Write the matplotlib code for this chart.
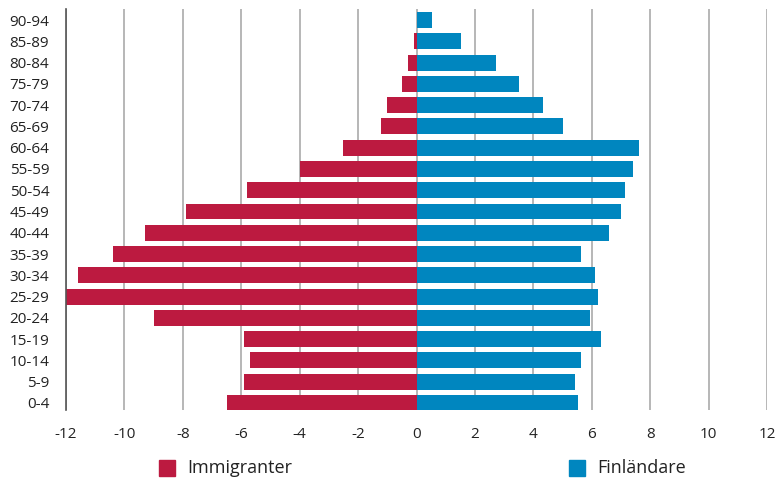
import numpy as np
import matplotlib.pyplot as plt
from matplotlib.patches import Rectangle

age_groups = ["0-4", "5-9", "10-14", "15-19", "20-24", "25-29", "30-34", "35-39",
    "40-44", "45-49", "50-54", "55-59", "60-64", "65-69", "70-74", "75-79",
    "80-84", "85-89", "90-94"]
immigrants = [-6.5, -5.9, -5.7, -5.9, -9.0, -12.0, -11.6, -10.4, -9.3, -7.9,
    -5.8, -4.0, -2.5, -1.2, -1.0, -0.5, -0.3, -0.1, 0.0]
finns = [5.53, 5.43, 5.63, 6.3, 5.94, 6.2, 6.1, 5.63, 6.6, 7.0,
    7.14, 7.41, 7.62, 5.0, 4.33, 3.5, 2.72, 1.52, 0.53]
x_ticks = list(range(-12, 13, 2))

red = "#BC1A40"
blue = "#0086BF"

plt.rcParams["font.family"] = ["Open Sans", "DejaVu Sans"]

fig = plt.figure(figsize=(7.75, 4.78), dpi=100)
ax = fig.add_axes([66 / 775, 1 - 410 / 478, (767 - 66) / 775, (410 - 9) / 478])

y = np.arange(len(age_groups))
ax.barh(y, immigrants, height=0.75, color=red, zorder=3)
ax.barh(y, finns, height=0.75, color=blue, zorder=3)

ax.set_xlim(-12, 12)
ax.set_ylim(-0.33, len(age_groups) - 0.48)
ax.set_xticks(x_ticks)
ax.set_xticklabels([str(t) for t in x_ticks], fontsize=11, color="#222222")
ax.set_yticks(y)
ax.set_yticklabels(age_groups, fontsize=11, color="#222222")
ax.tick_params(axis="both", length=0, pad=12)
ax.tick_params(axis="y", pad=12)

ax.grid(axis="x", color="#aaaaaa", linewidth=1.2, zorder=0)
for s in ["top", "right", "bottom"]:
    ax.spines[s].set_visible(False)
ax.spines["left"].set_color("#555555")
ax.spines["left"].set_linewidth(1.2)
ax.spines["left"].set_zorder(4)

# legend below the chart
fig.patches.append(Rectangle((159 / 775, 1 - 476 / 478), 16 / 775, 16 / 478,
    transform=fig.transFigure, color=red))
fig.text(187 / 775, 1 - 468 / 478, "Immigranter", fontsize=13, va="center", color="#222222")
fig.patches.append(Rectangle((569 / 775, 1 - 476 / 478), 16 / 775, 16 / 478,
    transform=fig.transFigure, color=blue))
fig.text(597 / 775, 1 - 468 / 478, "Finländare", fontsize=13, va="center", color="#222222")

fig.savefig("out.png", dpi=100)
